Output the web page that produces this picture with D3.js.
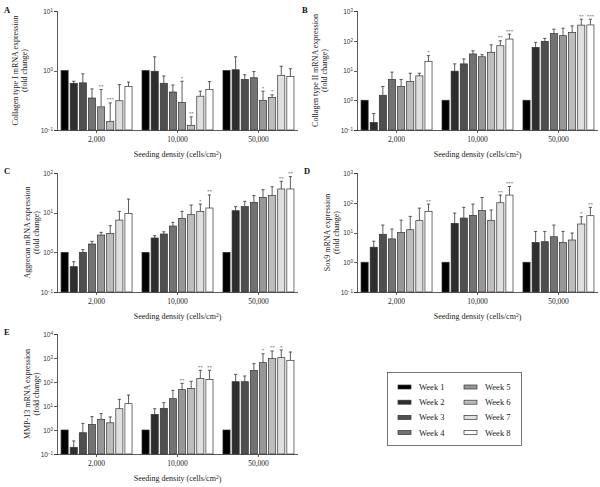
<!DOCTYPE html>
<html lang="en">
<head>
<meta charset="UTF-8">
<title>mRNA expression by seeding density</title>
<script src="https://d3js.org/d3.v7.min.js"></script>
<style>
  body { margin: 0; background: #fff; }
  svg { font-family: "Liberation Serif", "DejaVu Serif", serif; }
  .axis path, .axis line { stroke: #333; stroke-width: 0.8; fill: none; shape-rendering: crispEdges; }
</style>
</head>
<body>
<svg width="600" height="487"></svg>
<script>
const densities = ["2,000", "10,000", "50,000"];
const weeks = ["Week 1", "Week 2", "Week 3", "Week 4", "Week 5", "Week 6", "Week 7", "Week 8"];
const weekFills = ["#000000", "#2e2e2e", "#4f4f4f", "#727272", "#979797", "#bdbdbd", "#e0e0e0", "#ffffff"];

// Collagen type I (panel A) - mean and top of error bar, per density, per week
const colIMean  = [[1, 0.61, 0.62, 0.345, 0.245, 0.14, 0.31, 0.54],
                   [1, 0.97, 0.61, 0.435, 0.29, 0.12, 0.37, 0.48],
                   [1, 1.03, 0.71, 0.755, 0.316, 0.35, 0.83, 0.79]];
const colIUpper = [[null, 0.66, 0.88, 0.49, 0.48, 0.285, 0.58, 0.64],
                   [null, 1.7, 0.81, 0.57, 0.66, 0.166, 0.45, 0.65],
                   [null, 1.7, 0.85, 0.96, 0.45, 0.39, 1.18, 1.07]];
const colISig   = [["", "", "", "", "**", "***", "", ""],
                   ["", "", "", "", "*", "**", "", ""],
                   ["", "", "", "", "*", "*", "", ""]];

// Collagen type II (panel B)
const colIIMean  = [[1, 0.18, 1.47, 5.0, 2.9, 4.3, 6.6, 20.4],
                    [1, 9.5, 16.7, 36, 29, 41, 68, 114],
                    [1, 60, 95, 175, 148, 190, 335, 340]];
const colIIUpper = [[null, 0.36, 2.9, 8.8, 5.0, 8.1, 8.1, 31.6],
                    [null, 16.7, 24.5, 46, 34, 73, 100, 166],
                    [null, 88, 120, 245, 265, 316, 530, 530]];
const colIISig   = [["", "", "", "", "", "", "", "*"],
                    ["", "", "", "", "", "", "**", "***"],
                    ["", "", "", "", "", "", "**", "***"]];

// Aggrecan (panel C)
const aggMean  = [[1, 0.435, 1.0, 1.62, 2.73, 3.0, 6.5, 9.6],
                  [1, 2.3, 2.9, 4.6, 7.2, 8.9, 10.8, 13.1],
                  [1, 11.2, 14.2, 18.2, 24.4, 27, 39.6, 39.6]];
const aggUpper = [[null, 0.58, 1.17, 1.89, 3.19, 4.7, 10.8, 22],
                  [null, 2.63, 3.3, 5.7, 10.8, 15.6, 16.5, 27.9],
                  [null, 14.2, 19.3, 27, 38, 45, 61.6, 81]];
const aggSig   = [["", "", "", "", "", "", "", ""],
                  ["", "", "", "", "", "", "*", "**"],
                  ["", "", "", "", "", "", "**", "**"]];

// Sox9 (panel D)
const sox9Mean  = [[1, 3.2, 8.7, 6.1, 9.9, 12.4, 25, 51],
                   [1, 20.3, 30.6, 37.6, 55, 25, 100, 181],
                   [1, 4.6, 4.9, 7.2, 4.6, 5.6, 19.3, 36.7]];
const sox9Upper = [[null, 5.1, 17.8, 13.1, 26, 34.8, 66, 90],
                   [null, 45, 70, 90, 150, 57, 181, 352],
                   [null, 10.9, 10.9, 17.8, 10.9, 9.6, 34, 70]];
const sox9Sig   = [["", "", "", "", "", "", "", "**"],
                   ["", "", "", "", "", "", "**", "***"],
                   ["", "", "", "", "", "", "*", "**"]];

// MMP-13 (panel E)
const mmp13Mean  = [[1, 0.19, 0.77, 1.72, 2.78, 2.0, 7.7, 12.5],
                    [1, 4.5, 8.0, 20.2, 48, 53, 138, 129],
                    [1, 103, 103, 306, 640, 940, 1030, 800]];
const mmp13Upper = [[null, 0.35, 1.9, 3.6, 4.8, 3.5, 19, 28.7],
                    [null, 7.7, 13.8, 45, 88, 107, 306, 306],
                    [null, 208, 178, 580, 1500, 1960, 2150, 1780]];
const mmp13Sig   = [["", "", "", "", "", "", "", ""],
                    ["", "", "", "", "**", "", "**", "**"],
                    ["", "", "", "", "*", "**", "*", ""]];

const panels = [
  {letter: "A", label: "Collagen type I mRNA expression", mean: colIMean, upper: colIUpper, sig: colISig,
   maxExp: 1, left: 57, top: 11, bottom: 130, labelX: 18, letterX: 4, letterY: 13},
  {letter: "B", label: "Collagen type II mRNA expression", mean: colIIMean, upper: colIIUpper, sig: colIISig,
   maxExp: 3, left: 357, top: 11, bottom: 130, labelX: 318, letterX: 302, letterY: 13},
  {letter: "C", label: "Aggrecan mRNA expression", mean: aggMean, upper: aggUpper, sig: aggSig,
   maxExp: 2, left: 57, top: 173, bottom: 292, labelX: 30, letterX: 4, letterY: 174},
  {letter: "D", label: "Sox9 mRNA expression", mean: sox9Mean, upper: sox9Upper, sig: sox9Sig,
   maxExp: 3, left: 357, top: 173, bottom: 292, labelX: 330, letterX: 304, letterY: 174},
  {letter: "E", label: "MMP-13 mRNA expression", mean: mmp13Mean, upper: mmp13Upper, sig: mmp13Sig,
   maxExp: 4, left: 57, top: 334, bottom: 454, labelX: 30, letterX: 4, letterY: 335}
];

const svg = d3.select("svg");
const plotWidth = 241;

panels.forEach(p => {
  const g = svg.append("g");

  const x = d3.scaleBand()
    .domain(densities)
    .range([p.left, p.left + plotWidth])
    .paddingInner(0.123)
    .paddingOuter(0.05);

  const xWeek = d3.scaleBand()
    .domain(d3.range(weeks.length))
    .range([0, x.bandwidth()])
    .paddingInner(0.22);

  const y = d3.scaleLog()
    .domain([0.1, Math.pow(10, p.maxExp)])
    .range([p.bottom, p.top]);

  const exps = d3.range(-1, p.maxExp + 1);

  // y axis
  const yAxis = g.append("g")
    .attr("class", "axis")
    .attr("transform", `translate(${p.left},0)`)
    .call(d3.axisLeft(y).tickValues(exps.map(e => Math.pow(10, e))).tickSize(3).tickFormat(""));

  yAxis.selectAll(".tick").append("text")
    .attr("x", -4)
    .attr("dy", "0.35em")
    .attr("text-anchor", "end")
    .attr("fill", "#333")
    .attr("font-size", 6.5)
    .each(function(d) {
      const e = Math.round(Math.log10(d));
      const t = d3.select(this);
      t.append("tspan").text("10");
      t.append("tspan").attr("dy", "-0.45em").attr("font-size", 4.5).text(e < 0 ? "−" + (-e) : e);
    });

  // x axis
  const xAxis = g.append("g")
    .attr("class", "axis")
    .attr("transform", `translate(0,${p.bottom})`)
    .call(d3.axisBottom(x).tickSize(3).tickSizeOuter(0));
  xAxis.select(".domain").attr("d", `M${p.left},0.5H${p.left + plotWidth}`);
  xAxis.selectAll(".tick text")
    .attr("y", 7)
    .attr("fill", "#222")
    .attr("font-size", 7.5)
    .attr("font-family", "Liberation Serif, serif");

  // x title
  const xt = g.append("text")
    .attr("x", p.left + plotWidth / 2)
    .attr("y", p.bottom + 27)
    .attr("text-anchor", "middle")
    .attr("font-size", 8)
    .attr("fill", "#222");
  xt.append("tspan").text("Seeding density (cells/cm");
  xt.append("tspan").attr("dy", "-0.4em").attr("font-size", 5.5).text("2");
  xt.append("tspan").attr("dy", "0.4em").text(")");

  // y title
  const midY = (p.top + p.bottom) / 2;
  const yt = g.append("text")
    .attr("transform", `translate(${p.labelX},${midY}) rotate(-90)`)
    .attr("text-anchor", "middle")
    .attr("font-size", 8)
    .attr("fill", "#222");
  yt.append("tspan").attr("x", 0).attr("y", 0).text(p.label);
  yt.append("tspan").attr("x", 0).attr("y", 8.5).text("(fold change)");

  // panel letter
  g.append("text")
    .attr("x", p.letterX)
    .attr("y", p.letterY)
    .attr("font-size", 8.5)
    .attr("font-weight", "bold")
    .attr("fill", "#111")
    .text(p.letter);

  // bars
  densities.forEach((dens, i) => {
    const grp = g.append("g").attr("transform", `translate(${x(dens)},0)`);
    p.mean[i].forEach((v, w) => {
      const bx = xWeek(w);
      const bw = xWeek.bandwidth();
      const up = p.upper[i][w];
      if (up != null) {
        const cx = bx + bw / 2;
        grp.append("line")
          .attr("x1", cx).attr("x2", cx)
          .attr("y1", y(v)).attr("y2", y(up))
          .attr("stroke", "#333").attr("stroke-width", 0.8);
        grp.append("line")
          .attr("x1", cx - 1.6).attr("x2", cx + 1.6)
          .attr("y1", y(up)).attr("y2", y(up))
          .attr("stroke", "#333").attr("stroke-width", 0.8);
      }
      grp.append("rect")
        .attr("x", bx)
        .attr("width", bw)
        .attr("y", y(v))
        .attr("height", y(0.1) - y(v))
        .attr("fill", weekFills[w])
        .attr("stroke", "#333")
        .attr("stroke-width", 0.7);
      const s = p.sig[i][w];
      if (s) {
        grp.append("text")
          .attr("x", bx + bw / 2)
          .attr("y", y(up != null ? up : v) - 1.5)
          .attr("text-anchor", "middle")
          .attr("font-size", 5)
          .attr("fill", "#333")
          .text(s);
      }
    });
  });
});

// legend
const legend = svg.append("g");
legend.append("rect")
  .attr("x", 387.5).attr("y", 372.5)
  .attr("width", 134).attr("height", 73)
  .attr("fill", "none").attr("stroke", "#555").attr("stroke-width", 0.8);

weeks.forEach((wk, i) => {
  const col = Math.floor(i / 4);
  const row = i % 4;
  const lx = 398 + col * 66;
  const ly = 387 + row * 15.2;
  legend.append("rect")
    .attr("x", lx).attr("y", ly - 2)
    .attr("width", 13).attr("height", 4)
    .attr("fill", weekFills[i]).attr("stroke", "#333").attr("stroke-width", 0.7);
  legend.append("text")
    .attr("x", lx + 21).attr("y", ly)
    .attr("dy", "0.35em")
    .attr("font-size", 8.5)
    .attr("fill", "#222")
    .text(wk);
});
</script>
</body>
</html>
